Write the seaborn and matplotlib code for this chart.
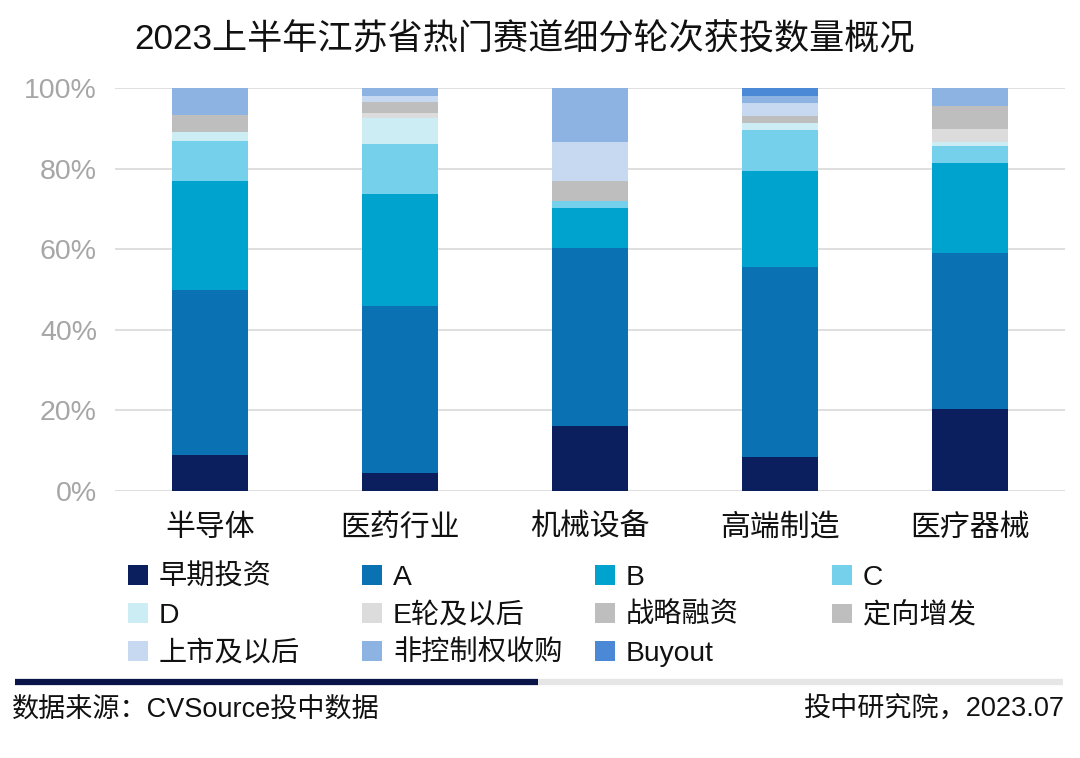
import numpy as np
import pandas as pd
import matplotlib
matplotlib.use("Agg")
import matplotlib.pyplot as plt
from matplotlib.patches import Patch
import seaborn as sns

categories = ["半导体", "医药行业", "机械设备", "高端制造", "医疗器械"]
series_names = ["早期投资", "A", "B", "C", "D", "E轮及以后", "战略融资", "定向增发",
                "上市及以后", "非控制权收购", "Buyout"]
# percentage shares per category (each list follows `categories`)
early      = [8.9, 4.5, 16.1, 8.4, 20.3]
round_a    = [41.0, 41.4, 44.2, 47.2, 38.8]
round_b    = [27.0, 27.8, 10.0, 23.9, 22.4]
round_c    = [9.9, 12.4, 1.7, 10.1, 4.1]
round_d    = [2.4, 6.4, 0.0, 1.6, 1.1]
round_e    = [0.0, 1.2, 0.0, 0.0, 3.1]
strategic  = [4.1, 2.9, 4.8, 1.8, 5.7]
private_pl = [0.0, 0.0, 0.0, 0.0, 0.0]
post_ipo   = [0.0, 1.5, 9.9, 3.4, 0.0]
minority   = [6.7, 1.9, 13.3, 1.7, 4.5]
buyout     = [0.0, 0.0, 0.0, 1.9, 0.0]

colors = ["#0B1F5E", "#0A72B3", "#00A2CE", "#74D0EB", "#CCEDF4", "#DCDCDC",
          "#BEBEBE", "#BEBEBE", "#C7D9F1", "#8DB3E2", "#4B88D5"]
yticks = [0, 20, 40, 60, 80, 100]
ytick_labels = ["0%", "20%", "40%", "60%", "80%", "100%"]

sns.set_theme(style="white")
plt.rcParams["font.family"] = ["Liberation Sans", "Noto Sans CJK SC", "DejaVu Sans"]

values = np.array([early, round_a, round_b, round_c, round_d, round_e, strategic,
                   private_pl, post_ipo, minority, buyout])
cum = np.cumsum(values, axis=0)

fig = plt.figure(figsize=(10.8, 7.58), dpi=100)
ax = fig.add_axes([115 / 1080, 1 - 491 / 758, 950 / 1080, 403 / 758])

for i in reversed(range(len(series_names))):
    df = pd.DataFrame({"cat": categories, "val": cum[i]})
    sns.barplot(data=df, x="cat", y="val", color=colors[i], saturation=1,
                width=0.4, ax=ax, linewidth=0, zorder=3)

ax.set_xlim(-0.5, 4.5)
ax.set_ylim(0, 100)
ax.set_yticks(yticks)
ax.set_yticklabels(ytick_labels)
ax.yaxis.grid(True, color="#D9D9D9", linewidth=1.2, zorder=0)
ax.set_axisbelow(True)
for s in ax.spines.values():
    s.set_visible(False)
ax.set_xlabel("")
ax.set_ylabel("")
ax.tick_params(axis="y", length=0, pad=13, labelsize=20.5, labelcolor="#A6A6A6")
ax.tick_params(axis="x", length=0, pad=16.5, labelsize=21.5, labelcolor="#111111")
for t in ax.get_yticklabels():
    t.set_clip_on(False)

fig.text(0.486, 0.947, "2023上半年江苏省热门赛道细分轮次获投数量概况",
         ha="center", va="center", fontsize=25.3, color="#111111")

# legend: 4 evenly spaced columns
col_x = [128 / 1080, 362 / 1080, 595 / 1080, 832 / 1080]
for c in range(4):
    idx = list(range(c, len(series_names), 4))
    handles = [Patch(facecolor=colors[i], edgecolor="none") for i in idx]
    labels = [series_names[i] for i in idx]
    fig.legend(handles, labels, loc="upper left",
               bbox_to_anchor=(col_x[c], 1 - 565 / 758), frameon=False,
               fontsize=20.3, handlelength=0.7, handleheight=0.7,
               handletextpad=0.4, labelspacing=0.42, borderpad=0,
               borderaxespad=0, labelcolor="#111111")

# footer band
fig.add_artist(plt.Line2D([15 / 1080, 538 / 1080], [1 - 682 / 758] * 2,
                          color="#0B1448", linewidth=4.5, solid_capstyle="butt"))
fig.add_artist(plt.Line2D([538 / 1080, 1063 / 1080], [1 - 682 / 758] * 2,
                          color="#E6E6E6", linewidth=4.5, solid_capstyle="butt"))
fig.text(12 / 1080, 1 - 710 / 758, "数据来源：CVSource投中数据", ha="left",
         va="center", fontsize=19.5, color="#111111")
fig.text(1064 / 1080, 1 - 710 / 758, "投中研究院，2023.07", ha="right",
         va="center", fontsize=19.5, color="#111111")

fig.savefig("out.png", dpi=100, facecolor="white")
